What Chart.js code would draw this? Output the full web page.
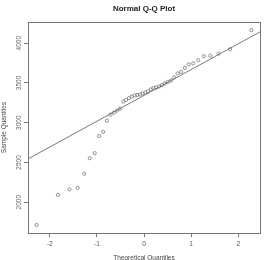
<!DOCTYPE html>
<html>
<head>
<meta charset="utf-8">
<script src="https://cdn.jsdelivr.net/npm/chart.js@4/dist/chart.umd.min.js"></script>
<style>
  html, body { margin: 0; padding: 0; background: #fff; }
  #wrap { width: 275px; height: 260px; }
</style>
</head>
<body>
<div id="wrap"><canvas id="qq"></canvas></div>
<script>
// Normal Q-Q plot, 44 samples
const theoretical = [
  -2.279, -1.825, -1.582, -1.408, -1.268, -1.150, -1.046, -0.952, -0.866, -0.786, -0.711,
  -0.639, -0.571, -0.505, -0.441, -0.380, -0.319, -0.259, -0.201, -0.143, -0.086, -0.029,
  0.029, 0.086, 0.143, 0.201, 0.259, 0.319, 0.380, 0.441, 0.505, 0.571, 0.639,
  0.711, 0.786, 0.866, 0.952, 1.046, 1.150, 1.268, 1.408, 1.582, 1.825, 2.279,
];
const sample = [
  1713, 2092, 2161, 2181, 2358, 2553, 2617, 2832, 2886, 3025, 3101,
  3127, 3152, 3177, 3266, 3285, 3310, 3329, 3342, 3348, 3355, 3367,
  3380, 3393, 3418, 3437, 3443, 3456, 3475, 3494, 3513, 3532, 3570,
  3620, 3639, 3690, 3734, 3747, 3785, 3836, 3842, 3870, 3924, 4165,
];
// qqline end points at the plot edges
const lineX = [-2.461, 2.461];
const lineY = [2544, 4143];

const xTicks = [-2, -1, 0, 1, 2];
const yTicks = [2000, 2500, 3000, 3500, 4000];

const boxPlugin = {
  id: 'box',
  afterLayout(chart) {
    // center the title over the plot region, like R does
    const t = chart.titleBlock;
    if (t) { t.left = chart.chartArea.left; t.right = chart.chartArea.right; }
  },
  afterDraw(chart) {
    const { ctx, chartArea: a } = chart;
    ctx.save();
    ctx.strokeStyle = '#777';
    ctx.lineWidth = 1;
    ctx.strokeRect(Math.round(a.left) + 0.5, Math.round(a.top) + 0.5,
      Math.round(a.right - a.left), Math.round(a.bottom - a.top));
    ctx.restore();
  },
};

const tickFont = { family: 'Liberation Sans', size: 6.5 };

new Chart(document.getElementById('qq'), {
  type: 'scatter',
  data: {
    datasets: [
      {
        label: 'sample',
        data: theoretical.map((x, i) => ({ x, y: sample[i] })),
        pointStyle: 'circle',
        pointRadius: 1.6,
        borderWidth: 0.7,
        borderColor: '#666',
        backgroundColor: 'rgba(0,0,0,0)',
      },
      {
        type: 'line',
        label: 'qqline',
        data: lineX.map((x, i) => ({ x, y: lineY[i] })),
        borderColor: '#555',
        borderWidth: 0.8,
        pointRadius: 0,
        fill: false,
      },
    ],
  },
  options: {
    responsive: true,
    maintainAspectRatio: false,
    animation: false,
    layout: { padding: { right: 15 } },
    plugins: {
      legend: { display: false },
      tooltip: { enabled: false },
      title: {
        display: true,
        text: 'Normal Q-Q Plot',
        color: '#222',
        font: { family: 'Liberation Sans', size: 8, weight: 'bold' },
        padding: { top: 4, bottom: 8.5 },
      },
    },
    scales: {
      x: {
        type: 'linear',
        min: lineX[0],
        max: lineX[1],
        afterBuildTicks: s => { s.ticks = xTicks.map(v => ({ value: v })); },
        afterFit: s => { s.height = 27; },
        grid: { drawOnChartArea: false, drawTicks: true, tickLength: 4, color: '#777' },
        border: { display: false },
        ticks: { color: '#555', font: tickFont, padding: 3, maxRotation: 0, callback: v => String(v) },
        title: {
          display: true,
          text: 'Theoretical Quantiles',
          color: '#444',
          font: tickFont,
          padding: { top: 0, bottom: -2 },
        },
      },
      y: {
        type: 'linear',
        min: 1612,
        max: 4266,
        afterBuildTicks: s => { s.ticks = yTicks.map(v => ({ value: v })); },
        afterFit: s => { s.width = 28; },
        grid: { drawOnChartArea: false, drawTicks: true, tickLength: 4, color: '#777' },
        border: { display: false },
        ticks: {
          color: '#666', font: tickFont, padding: -2.5,
          minRotation: 90, maxRotation: 90, crossAlign: 'center',
          callback: v => String(v),
        },
        title: {
          display: true,
          text: 'Sample Quantiles',
          color: '#444',
          font: tickFont,
          padding: 0,
        },
      },
    },
  },
  plugins: [boxPlugin],
});
</script>
</body>
</html>
